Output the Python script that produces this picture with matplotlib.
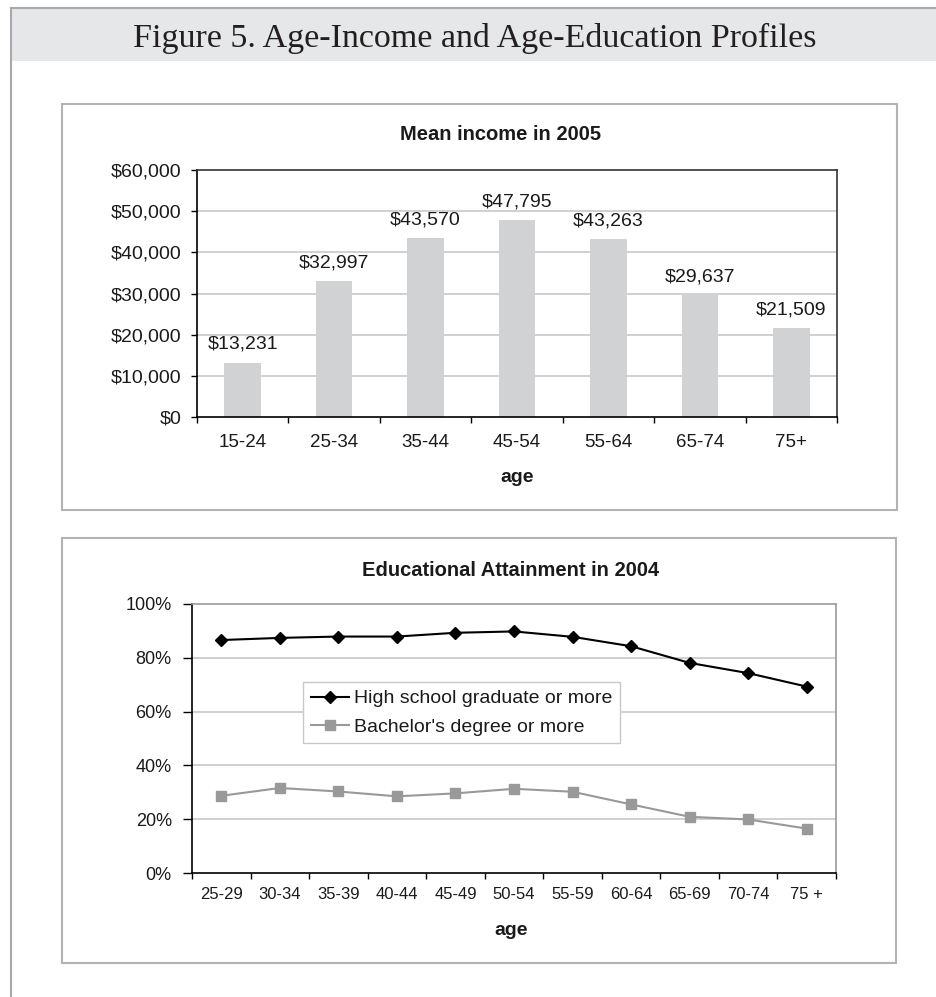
import matplotlib
matplotlib.use("Agg")
import matplotlib.pyplot as plt
from matplotlib.patches import Rectangle
from matplotlib.lines import Line2D
import numpy as np

# ---- data ----
income_ages = ["15-24", "25-34", "35-44", "45-54", "55-64", "65-74", "75+"]
mean_income = [13231, 32997, 43570, 47795, 43263, 29637, 21509]
income_ticks = [0, 10000, 20000, 30000, 40000, 50000, 60000]

edu_ages = ["25-29", "30-34", "35-39", "40-44", "45-49", "50-54",
            "55-59", "60-64", "65-69", "70-74", "75 +"]
high_school = [86.6, 87.4, 87.9, 87.9, 89.3, 89.8, 87.8, 84.3, 78.1, 74.3, 69.3]
bachelor = [28.7, 31.6, 30.3, 28.5, 29.6, 31.3, 30.2, 25.5, 20.9, 19.9, 16.5]
pct_ticks = [0, 20, 40, 60, 80, 100]

W, H = 937, 997
plt.rcParams["font.family"] = ["Liberation Sans", "DejaVu Sans"]
TXT = "#1a1a1a"


def fx(x):
    return x / W


def fy(y):
    return 1 - y / H


def fig_rect(x0, y0, x1, y1):
    return [x0 / W, 1 - y1 / H, (x1 - x0) / W, (y1 - y0) / H]


fig = plt.figure(figsize=(W / 100, H / 100), dpi=100)
fig.patch.set_facecolor("white")

# ---- page frame and heading band ----
fig.add_artist(Rectangle((fx(11), fy(61)), 1 - fx(11), (61 - 8) / H,
                         transform=fig.transFigure, facecolor="#e6e7e8",
                         edgecolor="none", zorder=0))
fig.add_artist(Line2D([fx(11), 1], [fy(8), fy(8)], transform=fig.transFigure,
                      color="#a7a9ac", lw=1.5))
fig.add_artist(Line2D([fx(11), fx(11)], [0, fy(8)], transform=fig.transFigure,
                      color="#a7a9ac", lw=1.5))

heading = fig.text(fx(475), fy(47), "Figure 5. Age-Income and Age-Education Profiles",
                   ha="center", va="baseline", fontsize=25, color="#231f20",
                   family=["Liberation Serif", "DejaVu Serif"])
fig.canvas.draw()
w = heading.get_window_extent().width
heading.set_fontsize(25 * 685 / w)

# ---- chart boxes ----
for (x0, y0, x1, y1) in [(62, 104, 897, 510), (62, 538, 896, 963)]:
    fig.add_artist(Rectangle((fx(x0), fy(y1)), (x1 - x0) / W, (y1 - y0) / H,
                             transform=fig.transFigure, fill=False,
                             edgecolor="#b3b3b3", lw=1.5))

# ---- income bar chart ----
ax1 = fig.add_axes(fig_rect(197, 170, 837, 417))
x1 = np.arange(len(income_ages))
ax1.bar(x1, mean_income, width=0.4, color="#d1d2d4", zorder=2)
ax1.set_xlim(-0.5, len(income_ages) - 0.5)
ax1.set_ylim(income_ticks[0], income_ticks[-1])
for v in income_ticks[1:-1]:
    ax1.axhline(v, color="#c4c4c4", lw=1.1, zorder=1)
ax1.set_yticks(income_ticks)
ax1.set_yticklabels([f"${v:,}" for v in income_ticks], fontsize=14, color=TXT)
ax1.set_xticks(np.arange(-0.5, len(income_ages), 1.0))
ax1.set_xticklabels([])
ax1.set_xticks(x1, minor=True)
ax1.set_xticklabels(income_ages, minor=True, fontsize=13.5, color=TXT)
ax1.tick_params(axis="x", which="minor", length=0, pad=12)
ax1.tick_params(axis="x", which="major", length=4, width=1, direction="out")
ax1.tick_params(axis="y", length=4, width=1, direction="out", pad=7)
for s in ["left", "bottom"]:
    ax1.spines[s].set_color("black")
    ax1.spines[s].set_linewidth(1.2)
for s in ["top", "right"]:
    ax1.spines[s].set_color("#333333")
    ax1.spines[s].set_linewidth(1.2)
for xi, v in zip(x1, mean_income):
    ax1.annotate(f"${v:,}", (xi, v), xytext=(0, 13), textcoords="offset points",
                 ha="center", va="center", fontsize=14, color=TXT)
fig.text(fx(501), fy(135), "Mean income in 2005", ha="center", va="center",
         fontsize=14.5, fontweight="bold", color=TXT)
fig.text(fx(517), fy(478), "age", ha="center", va="center",
         fontsize=14, fontweight="bold", color=TXT)

# ---- education line chart ----
ax2 = fig.add_axes(fig_rect(192, 604, 836, 873))
x2 = np.arange(len(edu_ages))
ax2.plot(x2, high_school, color="black", lw=1.5, marker="D", ms=5.8,
         mfc="black", mec="black", label="High school graduate or more", zorder=3)
ax2.plot(x2, bachelor, color="#999999", lw=1.5, marker="s", ms=6.8,
         mfc="#999999", mec="#999999", label="Bachelor's degree or more", zorder=3)
ax2.set_xlim(-0.5, len(edu_ages) - 0.5)
ax2.set_ylim(pct_ticks[0], pct_ticks[-1])
for v in pct_ticks[1:-1]:
    ax2.axhline(v, color="#c4c4c4", lw=1.1, zorder=1)
ax2.set_yticks(pct_ticks)
ax2.set_yticklabels([f"{v}%" for v in pct_ticks], fontsize=13, color=TXT)
ax2.set_xticks(np.arange(-0.5, len(edu_ages), 1.0))
ax2.set_xticklabels([])
ax2.set_xticks(x2, minor=True)
ax2.set_xticklabels(edu_ages, minor=True, fontsize=12, color=TXT)
ax2.tick_params(axis="x", which="minor", length=0, pad=10)
ax2.tick_params(axis="x", which="major", length=4, width=1, direction="out")
ax2.tick_params(axis="y", length=6.5, width=1, direction="out", pad=8)
for s in ["left", "bottom"]:
    ax2.spines[s].set_color("black")
    ax2.spines[s].set_linewidth(1.2)
for s in ["top", "right"]:
    ax2.spines[s].set_color("#999999")
    ax2.spines[s].set_linewidth(1.2)
leg = ax2.legend(loc="upper left", bbox_to_anchor=(fx(303), fy(682)),
                 bbox_transform=fig.transFigure, borderaxespad=0,
                 fontsize=14, frameon=True, fancybox=False, framealpha=1,
                 edgecolor="#c8c8c8", handlelength=1.95, handletextpad=0.28,
                 borderpad=0.4, labelspacing=0.55, numpoints=1)
leg.get_frame().set_linewidth(1.0)
for t in leg.get_texts():
    t.set_color(TXT)
fig.text(fx(511), fy(571), "Educational Attainment in 2004", ha="center",
         va="center", fontsize=14.5, fontweight="bold", color=TXT)
fig.text(fx(511), fy(930), "age", ha="center", va="center",
         fontsize=14, fontweight="bold", color=TXT)

fig.savefig("out.png", dpi=100)
